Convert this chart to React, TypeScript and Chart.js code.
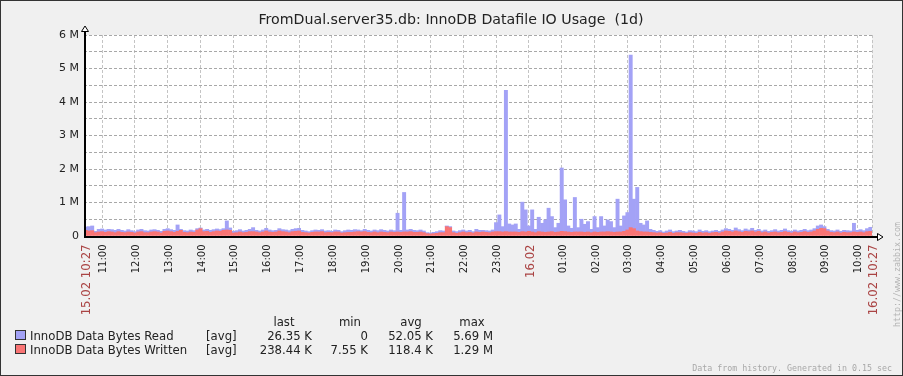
import React, { useEffect, useRef } from "react";
import { Chart, registerables } from "chart.js";

Chart.register(...registerables);

const TITLE = "FromDual.server35.db: InnoDB Datafile IO Usage  (1d)";
const BIN_MINUTES = 6;
const SPAN_MINUTES = 1440;
const FIRST_HOUR_MINUTE = 33;

// 6-minute averages, in M (stacked: written at bottom, read on top)
const written: number[] = [
  0.17, 0.15, 0.16, 0.10, 0.12, 0.13, 0.11, 0.13, 0.12, 0.10, 0.13,
  0.11, 0.10, 0.12, 0.11, 0.09, 0.12, 0.13, 0.10, 0.10, 0.12,
  0.13, 0.12, 0.09, 0.14, 0.15, 0.13, 0.11, 0.14, 0.17, 0.11,
  0.10, 0.12, 0.11, 0.18, 0.22, 0.13, 0.14, 0.11, 0.13, 0.15,
  0.14, 0.17, 0.18, 0.17, 0.09, 0.10, 0.12, 0.10, 0.11, 0.13,
  0.13, 0.12, 0.10, 0.12, 0.15, 0.12, 0.11, 0.12, 0.15, 0.13,
  0.12, 0.10, 0.13, 0.14, 0.15, 0.11, 0.10, 0.09, 0.11, 0.12,
  0.12, 0.13, 0.10, 0.11, 0.10, 0.12, 0.12, 0.09, 0.10, 0.11,
  0.11, 0.12, 0.13, 0.12, 0.13, 0.11, 0.10, 0.12, 0.10, 0.12,
  0.11, 0.10, 0.12, 0.11, 0.12, 0.11, 0.12, 0.12, 0.13, 0.11,
  0.11, 0.12, 0.10, 0.07, 0.06, 0.07, 0.08, 0.10, 0.10, 0.28,
  0.25, 0.10, 0.08, 0.10, 0.12, 0.10, 0.11, 0.09, 0.12, 0.11,
  0.12, 0.11, 0.10, 0.12, 0.13, 0.13, 0.12, 0.13, 0.12, 0.12,
  0.12, 0.11, 0.13, 0.12, 0.14, 0.12, 0.10, 0.13, 0.12, 0.11,
  0.12, 0.13, 0.11, 0.12, 0.14, 0.13, 0.12, 0.11, 0.12, 0.12,
  0.12, 0.11, 0.12, 0.10, 0.12, 0.11, 0.12, 0.12, 0.13, 0.12,
  0.11, 0.12, 0.12, 0.14, 0.18, 0.25, 0.22, 0.15, 0.13, 0.12, 0.12, 0.11,
  0.10, 0.09, 0.10, 0.08, 0.09, 0.11, 0.08, 0.10,
  0.10, 0.09, 0.08, 0.10, 0.09, 0.08, 0.11, 0.09, 0.10, 0.08,
  0.10, 0.11, 0.09, 0.12, 0.15, 0.14, 0.12, 0.15, 0.13, 0.11,
  0.14, 0.13, 0.15, 0.12, 0.14, 0.10, 0.12, 0.09, 0.11, 0.12,
  0.10, 0.11, 0.13, 0.11, 0.09, 0.12, 0.10, 0.11, 0.13, 0.11,
  0.12, 0.15, 0.20, 0.23, 0.22, 0.15, 0.11, 0.10, 0.12, 0.09,
  0.11, 0.10, 0.10, 0.12, 0.11, 0.12, 0.10, 0.13, 0.14,
];

const read: number[] = [
  0.10, 0.13, 0.14, 0.04, 0.08, 0.08, 0.07, 0.07, 0.07, 0.07, 0.07,
  0.06, 0.05, 0.07, 0.05, 0.04, 0.06, 0.07, 0.06, 0.05, 0.06,
  0.06, 0.05, 0.05, 0.06, 0.07, 0.06, 0.06, 0.19, 0.03, 0.05,
  0.05, 0.06, 0.05, 0.04, 0.02, 0.05, 0.06, 0.06, 0.06, 0.06,
  0.05, 0.05, 0.27, 0.07, 0.05, 0.06, 0.07, 0.05, 0.06, 0.07,
  0.12, 0.05, 0.05, 0.06, 0.08, 0.06, 0.05, 0.05, 0.07, 0.06,
  0.06, 0.06, 0.07, 0.08, 0.08, 0.06, 0.05, 0.04, 0.05, 0.06,
  0.05, 0.06, 0.05, 0.05, 0.04, 0.06, 0.05, 0.04, 0.06, 0.07,
  0.06, 0.07, 0.05, 0.04, 0.07, 0.06, 0.05, 0.06, 0.06, 0.07,
  0.06, 0.05, 0.06, 0.05, 0.56, 0.06, 1.18, 0.06, 0.07, 0.06,
  0.05, 0.06, 0.05, 0.03, 0.03, 0.04, 0.05, 0.06, 0.05, 0.02,
  0.03, 0.05, 0.05, 0.06, 0.06, 0.05, 0.06, 0.04, 0.08, 0.06,
  0.05, 0.05, 0.05, 0.06, 0.27, 0.50, 0.16, 4.22, 0.24, 0.21,
  0.24, 0.09, 0.88, 0.66, 0.16, 0.66, 0.10, 0.43, 0.26, 0.37,
  0.71, 0.45, 0.14, 0.26, 1.89, 0.95, 0.18, 0.12, 1.03, 0.13,
  0.38, 0.24, 0.31, 0.10, 0.46, 0.14, 0.46, 0.18, 0.35, 0.31,
  0.14, 0.98, 0.18, 0.46, 0.52, 5.15, 0.88, 1.30, 0.25, 0.21, 0.33, 0.09,
  0.07, 0.05, 0.06, 0.04, 0.06, 0.07, 0.05, 0.05,
  0.07, 0.05, 0.04, 0.06, 0.06, 0.05, 0.07, 0.05, 0.06, 0.05,
  0.05, 0.06, 0.05, 0.06, 0.07, 0.06, 0.05, 0.09, 0.06, 0.05,
  0.07, 0.05, 0.08, 0.05, 0.06, 0.05, 0.06, 0.05, 0.05, 0.07,
  0.05, 0.06, 0.08, 0.05, 0.05, 0.06, 0.05, 0.06, 0.07, 0.05,
  0.06, 0.07, 0.10, 0.10, 0.06, 0.05, 0.05, 0.05, 0.06, 0.05,
  0.06, 0.06, 0.05, 0.26, 0.06, 0.07, 0.06, 0.09, 0.12,
];

const hourLabels: string[] = [
  "11:00", "12:00", "13:00", "14:00", "15:00", "16:00", "17:00", "18:00",
  "19:00", "20:00", "21:00", "22:00", "23:00", "16.02", "01:00", "02:00",
  "03:00", "04:00", "05:00", "06:00", "07:00", "08:00", "09:00", "10:00",
];
const START_LABEL = "15.02 10:27";
const END_LABEL = "16.02 10:27";
const DAY_LABEL = "16.02";

const yTickValues: number[] = [0, 0.5, 1, 1.5, 2, 2.5, 3, 3.5, 4, 4.5, 5, 5.5, 6];

const legendNames = ["InnoDB Data Bytes Read", "InnoDB Data Bytes Written"];
const legendLast = ["26.35 K", "238.44 K"];
const legendMin = ["0", "7.55 K"];
const legendAvg = ["52.05 K", "118.4 K"];
const legendMax = ["5.69 M", "1.29 M"];

const BLUE = "#a3a2f6";
const RED = "#f97474";
const W = 903;
const H = 376;
const FONT = "'DejaVu Sans', sans-serif";
const MONO = "'DejaVu Sans Mono', monospace";

const tickMap = new Map<number, string>();
tickMap.set(0, START_LABEL);
hourLabels.forEach((l, k) => tickMap.set(FIRST_HOUR_MINUTE + 60 * k, l));
tickMap.set(SPAN_MINUTES, END_LABEL);
const tickValues = Array.from(tickMap.keys()).sort((a, b) => a - b);

function isDateLabel(v: number) {
  const l = tickMap.get(v);
  return l === START_LABEL || l === END_LABEL || l === DAY_LABEL;
}

const decor = {
  id: "decor",
  beforeDraw(chart: any) {
    const { ctx, chartArea: a } = chart;
    ctx.save();
    ctx.fillStyle = "#f0f0f0";
    ctx.fillRect(0, 0, W, H);
    ctx.fillStyle = "#ffffff";
    ctx.fillRect(a.left, a.top, a.right - a.left, a.bottom - a.top);
    ctx.restore();
  },
  afterDraw(chart: any) {
    const { ctx, chartArea: a } = chart;
    const xs = chart.scales.x;
    ctx.save();
    // axes
    ctx.fillStyle = "#000";
    ctx.fillRect(a.left, a.top - 4, 2, a.bottom - a.top + 6);
    ctx.fillRect(a.left, a.bottom, a.right - a.left + 5, 2);
    ctx.lineWidth = 1;
    ctx.strokeStyle = "#000";
    ctx.fillStyle = "#fff";
    ctx.beginPath();
    ctx.moveTo(a.left + 1, a.top - 9);
    ctx.lineTo(a.left - 2.5, a.top - 3.5);
    ctx.lineTo(a.left + 4.5, a.top - 3.5);
    ctx.closePath();
    ctx.fill();
    ctx.stroke();
    ctx.beginPath();
    ctx.moveTo(a.right + 11, a.bottom + 1);
    ctx.lineTo(a.right + 5.5, a.bottom - 2.5);
    ctx.lineTo(a.right + 5.5, a.bottom + 4.5);
    ctx.closePath();
    ctx.fill();
    ctx.stroke();

    // x tick labels (vertical, reading upward)
    tickValues.forEach((v) => {
      const px = xs.getPixelForValue(v);
      const date = isDateLabel(v);
      ctx.save();
      ctx.translate(Math.round(px) + (v === 0 ? 2.5 : 1.5), a.bottom + 8.5);
      ctx.rotate(-Math.PI / 2);
      ctx.font = `${date ? 11.7 : 10}px ${FONT}`;
      ctx.fillStyle = date ? "#aa4444" : "#222";
      ctx.textAlign = "right";
      ctx.textBaseline = "middle";
      ctx.fillText(tickMap.get(v) as string, 0, 0);
      ctx.restore();
    });

    // title
    ctx.fillStyle = "#222";
    ctx.font = `14.2px ${FONT}`;
    ctx.textAlign = "center";
    ctx.textBaseline = "alphabetic";
    ctx.fillText(TITLE, 451, 24);

    // legend
    ctx.font = `11.7px ${FONT}`;
    ctx.fillStyle = "#222";
    ctx.textAlign = "center";
    ctx.fillText("last", 284, 326);
    ctx.fillText("min", 350, 326);
    ctx.fillText("avg", 411, 326);
    ctx.fillText("max", 472, 326);
    const colors = [BLUE, RED];
    legendNames.forEach((name, i) => {
      const base = 340 + i * 14;
      ctx.fillStyle = colors[i];
      ctx.fillRect(15.5, base - 9.5, 10, 9);
      ctx.strokeStyle = "#333";
      ctx.strokeRect(15.5, base - 9.5, 10, 9);
      ctx.fillStyle = "#222";
      ctx.textAlign = "left";
      ctx.fillText(name, 30, base);
      ctx.fillText("[avg]", 206, base);
      ctx.textAlign = "right";
      ctx.fillText(legendLast[i], 312, base);
      ctx.fillText(legendMin[i], 368, base);
      ctx.fillText(legendAvg[i], 433, base);
      ctx.fillText(legendMax[i], 493, base);
    });

    // footer
    ctx.font = `8.3px ${MONO}`;
    ctx.fillStyle = "#a8a8a8";
    ctx.textAlign = "right";
    ctx.fillText("Data from history. Generated in 0.15 sec", 892, 371);

    ctx.translate(898, 327);
    ctx.rotate(-Math.PI / 2);
    ctx.textAlign = "left";
    ctx.textBaseline = "middle";
    ctx.fillStyle = "#b4b4b4";
    ctx.fillText("http://www.zabbix.com", 0, 0);
    ctx.restore();

    ctx.save();
    ctx.strokeStyle = "#333";
    ctx.lineWidth = 1;
    ctx.strokeRect(0.5, 0.5, W - 1, H - 1);
    ctx.restore();
  },
};

export default function App() {
  const ref = useRef<HTMLCanvasElement>(null);
  useEffect(() => {
    document.body.style.margin = "0";
    const toPoints = (arr: number[]) =>
      arr.map((v, i) => ({ x: i * BIN_MINUTES + BIN_MINUTES / 2, y: v }));
    const chart = new Chart(ref.current as HTMLCanvasElement, {
      type: "bar",
      data: {
        datasets: [
          {
            label: legendNames[1],
            data: toPoints(written) as any,
            backgroundColor: RED,
            borderWidth: 0,
            barPercentage: 1,
            categoryPercentage: 1,
          },
          {
            label: legendNames[0],
            data: toPoints(read) as any,
            backgroundColor: BLUE,
            borderWidth: 0,
            barPercentage: 1,
            categoryPercentage: 1,
          },
        ],
      },
      options: {
        responsive: false,
        animation: false,
        devicePixelRatio: 1,
        layout: { padding: { top: 35, right: 31, bottom: 0, left: 0 } },
        plugins: { legend: { display: false }, tooltip: { enabled: false }, title: { display: false } },
        scales: {
          x: {
            type: "linear",
            min: 0,
            max: SPAN_MINUTES,
            offset: false,
            stacked: true,
            grid: { color: "#c4c4c4", drawTicks: false, offset: false, lineWidth: 1 },
            border: { display: false, dash: [3, 2] },
            afterBuildTicks: (s: any) => {
              s.ticks = tickValues.map((v) => ({ value: v }));
            },
            afterFit: (s: any) => {
              s.height = 140;
            },
            ticks: {
              display: false,
              autoSkip: false,
              minRotation: 0,
              maxRotation: 0,
            },
          } as any,
          y: {
            min: 0,
            max: 6,
            stacked: true,
            grid: { color: "#a8a8a8", drawTicks: false, lineWidth: 1 },
            border: { display: false, dash: [3, 2] },
            afterBuildTicks: (s: any) => {
              s.ticks = yTickValues.map((v) => ({ value: v }));
            },
            afterFit: (s: any) => {
              s.width = 84;
            },
            ticks: {
              autoSkip: false,
              padding: 5,
              color: "#222",
              font: { family: FONT, size: 11 },
              callback: (v: any) => {
                const n = Number(v);
                if (n === 0) return "0";
                return Number.isInteger(n) ? `${n} M` : "";
              },
            },
          } as any,
        },
      },
      plugins: [decor],
    });
    return () => chart.destroy();
  }, []);
  return (
    <canvas
      ref={ref}
      width={W}
      height={H}
      style={{ display: "block", width: W, height: H }}
    />
  );
}
